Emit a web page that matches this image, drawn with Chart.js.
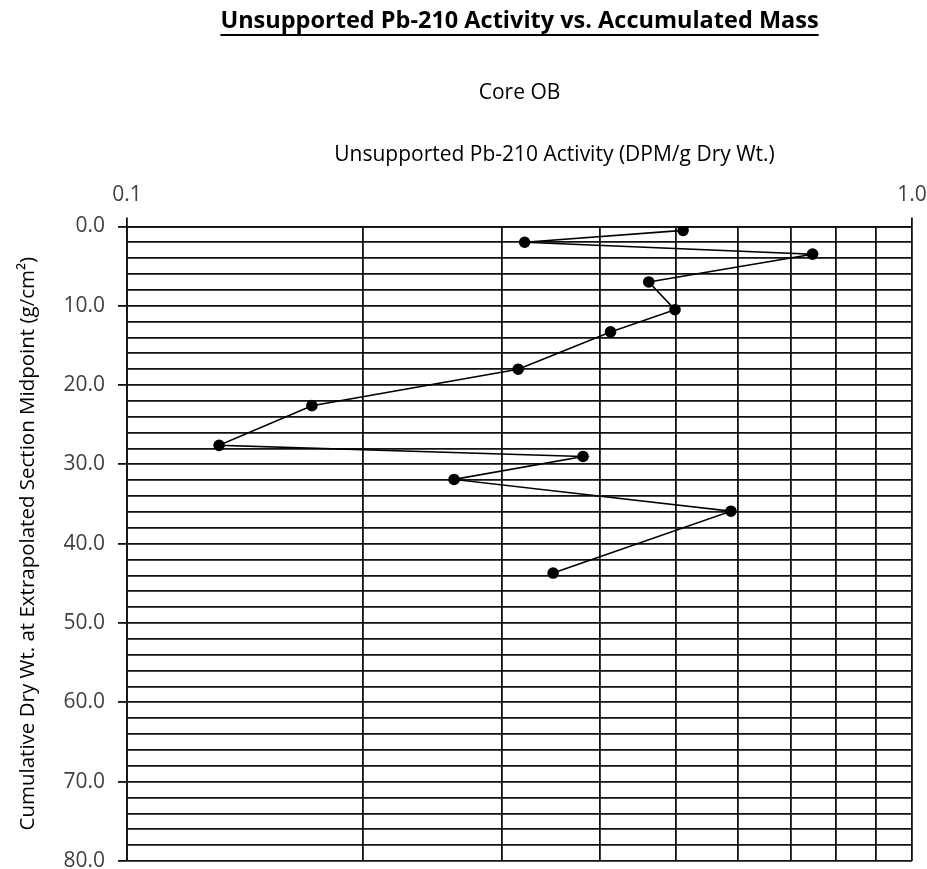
<!DOCTYPE html>
<html>
<head>
<meta charset="utf-8">
<script src="https://cdn.jsdelivr.net/npm/chart.js@4/dist/chart.umd.min.js"></script>
<style>
  html, body { margin: 0; padding: 0; background: #ffffff; }
  #wrap { width: 927px; height: 869px; }
</style>
</head>
<body>
<div id="wrap"><canvas id="myChart" width="927" height="869"></canvas></div>
<script>
// Pb-210 activity (DPM/g), by section
const activity = [0.511, 0.321, 0.747, 0.462, 0.499, 0.413, 0.315, 0.172, 0.131, 0.381, 0.261, 0.588, 0.349];
// cumulative dry wt. at section midpoint (g/cm2)
const cumMass = [0.5, 2.0, 3.5, 7.0, 10.5, 13.3, 18.0, 22.6, 27.6, 29.0, 31.9, 35.9, 43.7];
// grid positions on the log axis, and the ones that get a label
const xGridValues = [0.1, 0.2, 0.3, 0.4, 0.5, 0.6, 0.7, 0.8, 0.9, 1.0];
const xLabelValues = [0.1, 1.0];

const titleText = 'Unsupported Pb-210 Activity vs. Accumulated Mass';
const xTitleText = 'Unsupported Pb-210 Activity (DPM/g Dry Wt.)';

const points = activity.map((a, i) => ({x: a, y: cumMass[i]}));
const fontFam = "'Open Sans', sans-serif";

// title underline + x axis title (excel puts it a bit right of centre)
const extras = {
    id: 'extras',
    afterDraw(chart) {
        const c = chart.ctx;
        const t = chart.titleBlock;
        const area = chart.chartArea;
        c.save();
        c.font = "bold 23.5px " + fontFam;
        const w = c.measureText(titleText).width;
        const midX = (t.left + t.right) / 2;
        const y = t.top + t.options.padding.top + 28;
        c.strokeStyle = '#000';
        c.lineWidth = 2;
        c.beginPath();
        c.moveTo(midX - w / 2, y);
        c.lineTo(midX + w / 2, y);
        c.stroke();

        c.font = "21px " + fontFam;
        c.fillStyle = '#000';
        c.textAlign = 'center';
        c.textBaseline = 'middle';
        c.fillText(xTitleText, (area.left + area.right) / 2 + 35, area.top - 71);
        c.restore();
    }
};

const isLabelX = v => xLabelValues.some(l => Math.abs(l - v) < 1e-6);

const ctx = document.getElementById('myChart').getContext('2d');
const chart = new Chart(ctx, {
    type: 'scatter',
    data: {
        datasets: [{
            label: 'Core OB',
            data: points,
            showLine: true,
            borderColor: '#000',
            borderWidth: 1.6,
            backgroundColor: '#000',
            pointRadius: 5,
            pointHoverRadius: 5,
            pointBackgroundColor: '#000'
        }]
    },
    options: {
        responsive: false,
        animation: false,
        layout: { padding: { left: 16, right: 15, bottom: 8, top: 0 } },
        plugins: {
            legend: { display: false },
            tooltip: { enabled: false },
            title: {
                display: true,
                fullSize: false,
                text: titleText,
                color: '#000',
                font: { family: fontFam, size: 23.5, weight: 'bold' },
                padding: { top: 7, bottom: 20 }
            },
            subtitle: {
                display: true,
                fullSize: false,
                text: 'Core OB',
                color: '#000',
                font: { family: fontFam, size: 21 },
                padding: { top: 25, bottom: 77 }
            }
        },
        scales: {
            x: {
                type: 'logarithmic',
                position: 'top',
                min: 0.1,
                max: 1.0,
                afterBuildTicks: axis => {
                    axis.ticks = xGridValues.map(v => ({value: v}));
                },
                afterFit: s => {
                    s.height = 44;
                    s.paddingLeft = 0;
                    s.paddingRight = 0;
                },
                ticks: {
                    color: '#404040',
                    font: { family: fontFam, size: 21 },
                    autoSkip: false,
                    maxRotation: 0,
                    padding: 10,
                    callback: v => isLabelX(v) ? Number(v).toFixed(1) : ''
                },
                grid: {
                    color: '#111',
                    lineWidth: 1.8,
                    tickLength: 9,
                    tickColor: c => (c.tick && isLabelX(c.tick.value)) ? '#111' : 'rgba(0,0,0,0)'
                },
                border: { display: true, color: '#111', width: 1.8 },
                title: { display: false }
            },
            y: {
                type: 'linear',
                reverse: true,
                min: 0,
                max: 80,
                afterFit: s => {
                    s.width = 111;
                    s.paddingTop = 0;
                    s.paddingBottom = 0;
                },
                ticks: {
                    stepSize: 2,
                    autoSkip: false,
                    color: '#404040',
                    font: { family: fontFam, size: 21 },
                    padding: 13,
                    callback: v => (v % 10 === 0) ? Number(v).toFixed(1) : ''
                },
                grid: {
                    color: '#111',
                    lineWidth: 1.8,
                    tickLength: 9,
                    tickColor: c => (c.tick && c.tick.value % 10 === 0) ? '#111' : 'rgba(0,0,0,0)'
                },
                border: { display: true, color: '#111', width: 1.8 },
                title: {
                    display: true,
                    text: 'Cumulative Dry Wt. at Extrapolated Section Midpoint (g/cm\u00B2)',
                    color: '#000',
                    font: { family: fontFam, size: 20.5 },
                    padding: { top: 0, bottom: 20 }
                }
            }
        }
    },
    plugins: [extras]
});
</script>
</body>
</html>
